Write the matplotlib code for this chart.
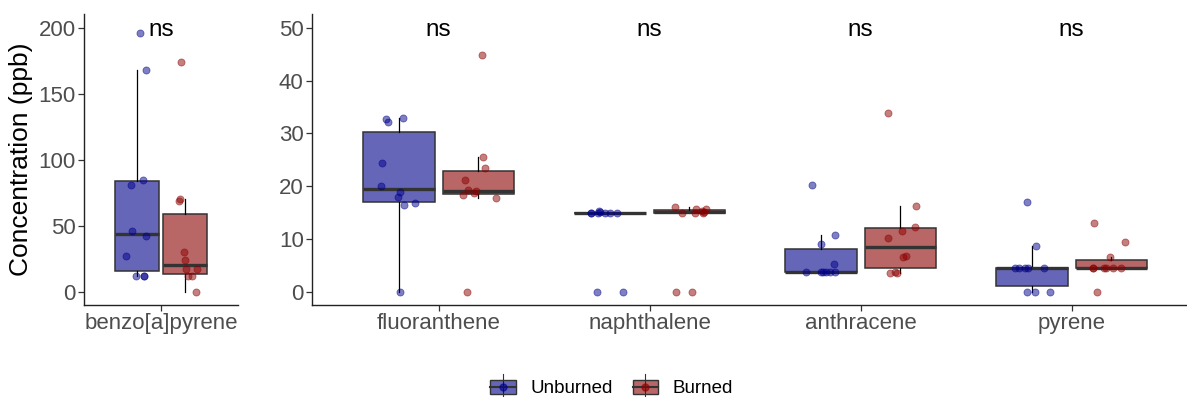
import numpy as np
import matplotlib
matplotlib.use("Agg")
import matplotlib.pyplot as plt
from matplotlib.patches import Rectangle
from matplotlib.lines import Line2D
from matplotlib.legend_handler import HandlerBase

plt.rcParams['font.family'] = ['Liberation Sans', 'DejaVu Sans']

# data (ppb)
left_cats = ['benzo[a]pyrene']
right_cats = ['fluoranthene', 'naphthalene', 'anthracene', 'pyrene']

unburned_left = [[196, 168, 85, 81, 46, 42, 27, 12, 12, 12]]
burned_left = [[174, 70, 69, 30, 24, 17, 17, 12, 12, 0]]

unburned_right = [
    [32.1, 32.8, 33.0, 24.4, 20.1, 18.9, 17.9, 16.8, 16.5, 0],
    [15.0, 15.1, 15.0, 14.9, 15.0, 15.3, 15.0, 15.0, 0, 0],
    [20.3, 10.8, 9.1, 5.2, 3.7, 3.7, 3.7, 3.7, 3.7, 3.7],
    [17.0, 8.7, 4.5, 4.5, 4.5, 4.5, 4.5, 0, 0, 0],
]
burned_right = [
    [44.8, 25.5, 23.4, 21.2, 19.1, 19.2, 18.7, 18.4, 17.7, 0],
    [15.6, 15.0, 15.0, 14.9, 16.1, 15.3, 15.7, 15.1, 0, 0],
    [33.8, 16.2, 11.5, 10.2, 12.3, 6.75, 6.6, 3.7, 3.6, 3.6],
    [13.1, 9.5, 6.5, 4.5, 4.5, 4.5, 4.5, 4.5, 4.5, 0],
]

groups = ['Unburned', 'Burned']
fill_cols = [(0, 0, 0.545, 0.6), (0.545, 0, 0, 0.6)]
pt_cols = ['#00008B', '#8B0000']
text_gray = '#4D4D4D'

fig = plt.figure(figsize=(11.87, 3.97), dpi=100)
ax_l = fig.add_axes([84 / 1187, 92 / 397, 154 / 1187, 291 / 397])
ax_r = fig.add_axes([312 / 1187, 92 / 397, 875 / 1187, 291 / 397])

rng = np.random.default_rng(7)


def draw_panel(ax, cats, unb, bur):
    pos = np.arange(1, len(cats) + 1)
    for g, (vals, off) in enumerate([(unb, -0.1875), (bur, 0.1875)]):
        ax.boxplot(vals, positions=pos + off, widths=0.3375, patch_artist=True,
                   showfliers=False, showcaps=False, whis=1.5,
                   boxprops=dict(facecolor=fill_cols[g], edgecolor='#333333', linewidth=1.1),
                   whiskerprops=dict(color='black', linewidth=0.9),
                   medianprops=dict(color='#333333', linewidth=2.4, solid_capstyle='butt'),
                   zorder=2)
        for i, v in enumerate(vals):
            x = pos[i] + off + rng.uniform(-0.09, 0.09, len(v))
            ax.scatter(x, v, s=26, color=pt_cols[g], alpha=0.5, edgecolors=pt_cols[g],
                       linewidths=0.6, zorder=3)
    ax.set_xticks(pos)
    ax.set_xticklabels(cats)
    for p in pos:
        ax.text(p, 0.945, 'ns', transform=ax.get_xaxis_transform(), ha='center', va='center',
                fontsize=17.5, color='black')
    for s in ['top', 'right']:
        ax.spines[s].set_visible(False)
    for s in ['left', 'bottom']:
        ax.spines[s].set_linewidth(1.0)
        ax.spines[s].set_color('#222222')
    ax.tick_params(axis='both', labelsize=16, labelcolor=text_gray, color='#333333',
                   length=4, width=0.9, pad=2)


draw_panel(ax_l, left_cats, unburned_left, burned_left)
ax_l.set_xlim(0.4, 1.6)
ax_l.set_ylim(-10, 210.6)
ax_l.set_yticks([0, 50, 100, 150, 200])
ax_l.set_ylabel('Concentration (ppb)', fontsize=19, labelpad=4)

draw_panel(ax_r, right_cats, unburned_right, burned_right)
ax_r.set_xlim(0.4, 4.547)
ax_r.set_ylim(-2.5, 52.6)
ax_r.set_yticks([0, 10, 20, 30, 40, 50])


class BoxKey(HandlerBase):
    # boxplot legend glyph: whisker, box, median and a point
    def create_artists(self, legend, orig, xd, yd, w, h, fs, trans):
        g = orig
        cx, cy = -xd + w / 2, -yd + h / 2
        bw, bh = w * 0.9, h * 0.8
        whisk = Line2D([cx, cx], [cy - h * 0.75, cy + h * 0.75], color='#333333', lw=0.8,
                       transform=trans)
        box = Rectangle((cx - bw / 2, cy - bh / 2), bw, bh, facecolor=fill_cols[g],
                        edgecolor='#333333', lw=1.0, transform=trans)
        med = Line2D([cx - bw / 2, cx + bw / 2], [cy, cy], color='#333333', lw=1.5,
                     transform=trans)
        dot = Line2D([cx], [cy], marker='o', ls='', color=pt_cols[g], alpha=0.6,
                     markersize=5, transform=trans)
        return [whisk, box, med, dot]


handles = [0, 1]
fig.legend(handles, groups, loc='center', bbox_to_anchor=(611 / 1187, 1 - 388 / 397), ncol=2,
           frameon=False, fontsize=13.5, handlelength=1.5, handleheight=1.0, columnspacing=1.0,
           handletextpad=0.7, handler_map={int: BoxKey()})

fig.savefig('out.png', dpi=100)
